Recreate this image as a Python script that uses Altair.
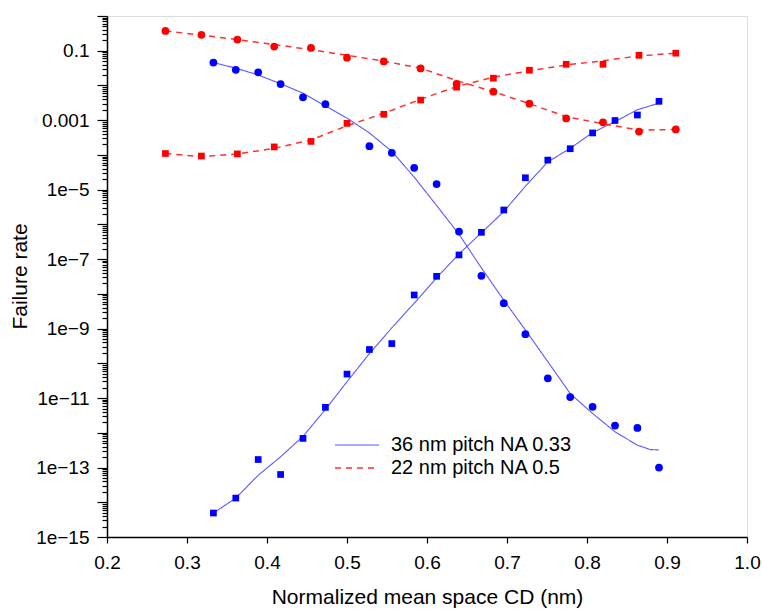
import altair as alt
import pandas as pd

FONT = "Liberation Sans"

# ---- data ----
SER_BLUE = "36 nm pitch NA 0.33"
SER_RED = "22 nm pitch NA 0.5"
series_names = [SER_BLUE, SER_RED]
line_colors = ["#5a5aff", "#ff3030"]

# 22 nm pitch (red)
x_red = [0.273, 0.318, 0.363, 0.409, 0.455, 0.500, 0.546, 0.592, 0.637, 0.683,
         0.728, 0.774, 0.820, 0.865, 0.911]
red_circle = [0.372, 0.288, 0.209, 0.132, 0.120, 0.063, 0.049, 0.031, 0.0112, 0.0066,
              0.0030, 0.00112, 0.00087, 0.00047, 0.00054]
red_square = [1.10e-4, 9.3e-5, 1.07e-4, 1.70e-4, 2.45e-4, 8.1e-4, 1.48e-3, 3.8e-3, 8.9e-3, 0.0162,
              0.0275, 0.0407, 0.0407, 0.0741, 0.0851]
red_circle_fit = [0.372, 0.282, 0.209, 0.151, 0.107, 0.074, 0.050, 0.0316, 0.0138, 0.0066,
                  0.0030, 0.00126, 0.00079, 0.00052, 0.00054]
red_square_fit = [1.10e-4, 8.9e-5, 1.07e-4, 1.55e-4, 2.7e-4, 6.9e-4, 1.58e-3, 4.0e-3, 9.3e-3, 0.0174,
                  0.0263, 0.0389, 0.0513, 0.0708, 0.0851]

# 36 nm pitch (blue)
x_blue_circle = [0.333, 0.361, 0.389, 0.417, 0.445, 0.473, 0.528, 0.556, 0.584, 0.612,
                 0.640, 0.668, 0.696, 0.723, 0.751, 0.779, 0.807, 0.835, 0.863, 0.890]
blue_circle = [0.0457, 0.0282, 0.0240, 0.0110, 0.00457, 0.00288, 1.78e-4, 1.15e-4, 4.27e-5, 1.45e-5,
               6.2e-7, 3.3e-8, 5.4e-9, 6.9e-10, 3.7e-11, 1.07e-11, 5.6e-12, 1.62e-12, 1.38e-12, 1.0e-13]

x_blue_square = [0.333, 0.361, 0.389, 0.417, 0.445, 0.473, 0.500, 0.528, 0.556, 0.584, 0.612,
                 0.640, 0.668, 0.696, 0.723, 0.751, 0.779, 0.807, 0.835, 0.863, 0.890]
blue_square = [4.9e-15, 1.32e-14, 1.70e-13, 6.3e-14, 6.9e-13, 5.4e-12, 4.9e-11, 2.5e-10, 3.7e-10, 9.3e-9, 3.2e-8,
               1.32e-7, 5.9e-7, 2.6e-6, 2.2e-5, 7.1e-5, 1.51e-4, 4.3e-4, 9.8e-4, 1.41e-3, 3.5e-3]

x_blue_circle_fit = [0.333, 0.361, 0.389, 0.417, 0.445, 0.473, 0.500, 0.528, 0.556, 0.584, 0.612,
                     0.640, 0.668, 0.696, 0.723, 0.751, 0.779, 0.807, 0.835, 0.863, 0.879, 0.890]
blue_circle_fit = [4.57e-2, 3.16e-2, 2.0e-2, 1.12e-2, 6.0e-3, 2.57e-3, 1.15e-3, 4.3e-4, 1.26e-4, 2.3e-5, 3.5e-6,
                   5.2e-7, 5.6e-8, 6.6e-9, 9.1e-10, 1.12e-10, 1.35e-11, 3.6e-12, 1.07e-12, 4.4e-13, 3.3e-13, 3.2e-13]
blue_square_fit = [4.9e-15, 1.32e-14, 6.0e-14, 2.04e-13, 7.9e-13, 4.7e-12, 2.95e-11, 1.91e-10, 1.05e-9, 5.4e-9, 2.9e-8,
                   1.41e-7, 5.75e-7, 2.34e-6, 1.26e-5, 6.3e-5, 1.55e-4, 4.4e-4, 9.1e-4, 2.0e-3, 3.1e-3]

x_ticks = [0.2, 0.3, 0.4, 0.5, 0.6, 0.7, 0.8, 0.9, 1.0]
decades = list(range(-15, 1))
y_ticks = [m * 10.0 ** e for e in decades for m in range(1, 10) if m * 10.0 ** e <= 1.0000001]

# ---- tables ----
fits = pd.concat([
    pd.DataFrame({"x": x_blue_circle_fit, "y": blue_circle_fit, "series": SER_BLUE, "curve": "bc"}),
    pd.DataFrame({"x": x_blue_square, "y": blue_square_fit, "series": SER_BLUE, "curve": "bs"}),
    pd.DataFrame({"x": x_red, "y": red_circle_fit, "series": SER_RED, "curve": "rc"}),
    pd.DataFrame({"x": x_red, "y": red_square_fit, "series": SER_RED, "curve": "rs"}),
], ignore_index=True)

pts_bc = pd.DataFrame({"x": x_blue_circle, "y": blue_circle})
pts_bs = pd.DataFrame({"x": x_blue_square, "y": blue_square})
pts_rc = pd.DataFrame({"x": x_red, "y": red_circle})
pts_rs = pd.DataFrame({"x": x_red, "y": red_square})

IS_DEC = "abs(log(datum.value)/LN10 - round(log(datum.value)/LN10)) < 0.001"
LABEL_EXPR = (
    f"({IS_DEC}) && abs(round(log(datum.value)/LN10)) % 2 == 1 ? "
    "(datum.value >= 0.0009 ? format(datum.value, '~g') : "
    "replace(format(datum.value, '.0e'), '-', '\u2212')) : ''"
)

common_axis = dict(
    grid=False, domainColor="black", domainWidth=1.5, tickColor="black", tickWidth=1.2,
    labelColor="black", titleColor="black", labelFont=FONT, titleFont=FONT,
    titleFontWeight="normal", labelFontWeight="normal",
)

x_enc = alt.X(
    "x:Q",
    scale=alt.Scale(domain=[0.2, 1.0], nice=False, zero=False),
    axis=alt.Axis(
        values=x_ticks, format=".1f", title="Normalized mean space CD (nm)",
        labelFlush=False, labelPadding=10, tickSize=6, labelFontSize=19,
        titleFontSize=21, titleY=60, titleX=320, titleBaseline="middle", titleAlign="center",
        **common_axis,
    ),
)
y_enc = alt.Y(
    "y:Q",
    scale=alt.Scale(type="log", domain=[1e-15, 1], nice=False),
    axis=alt.Axis(
        values=y_ticks, labelExpr=LABEL_EXPR, labelOverlap=False, labelFlush=False,
        tickSize={"condition": {"test": IS_DEC, "value": 10}, "value": 5},
        labelPadding=8, labelFontSize=19,
        title="Failure rate", titleFontSize=21, titleAngle=270, titleX=-87, titleY=260,
        titleAlign="center", titleBaseline="middle",
        **common_axis,
    ),
)

legend = alt.Legend(
    title=None, orient="none", legendX=227, legendY=419, symbolType="stroke",
    symbolSize=1936, symbolStrokeWidth=1.3, labelFontSize=20, labelFont=FONT,
    labelColor="black", labelLimit=500, clipHeight=20, rowPadding=3, labelOffset=11, padding=0,
)

lines = alt.Chart(fits).mark_line().encode(
    x=x_enc, y=y_enc,
    color=alt.Color("series:N", scale=alt.Scale(domain=series_names, range=line_colors), legend=legend),
    strokeDash=alt.StrokeDash("series:N", scale=alt.Scale(domain=series_names, range=[[1, 0], [6, 5]]), legend=legend),
    strokeWidth=alt.StrokeWidth("series:N", scale=alt.Scale(domain=series_names, range=[1.1, 1.5]), legend=None),
    detail="curve:N",
)


def pts(df, shape, color, size):
    return alt.Chart(df).mark_point(filled=True, shape=shape, size=size, opacity=1, color=color).encode(
        x=x_enc, y=y_enc
    )


chart = alt.layer(
    lines,
    pts(pts_bc, "circle", "#0000ff", 60),
    pts(pts_bs, "square", "#0000ff", 45),
    pts(pts_rc, "circle", "#ff0000", 60),
    pts(pts_rs, "square", "#ff0000", 45),
).properties(
    width=640, height=521,
    autosize=alt.AutoSizeParams(type="none"),
    padding={"left": 107, "top": 16, "right": 16, "bottom": 73},
).configure_view(stroke=None).configure_axis(
    grid=False, titleFontWeight="normal",
).configure(background="white")

chart.save("out.html", embed_options={"renderer": "svg", "actions": False})
